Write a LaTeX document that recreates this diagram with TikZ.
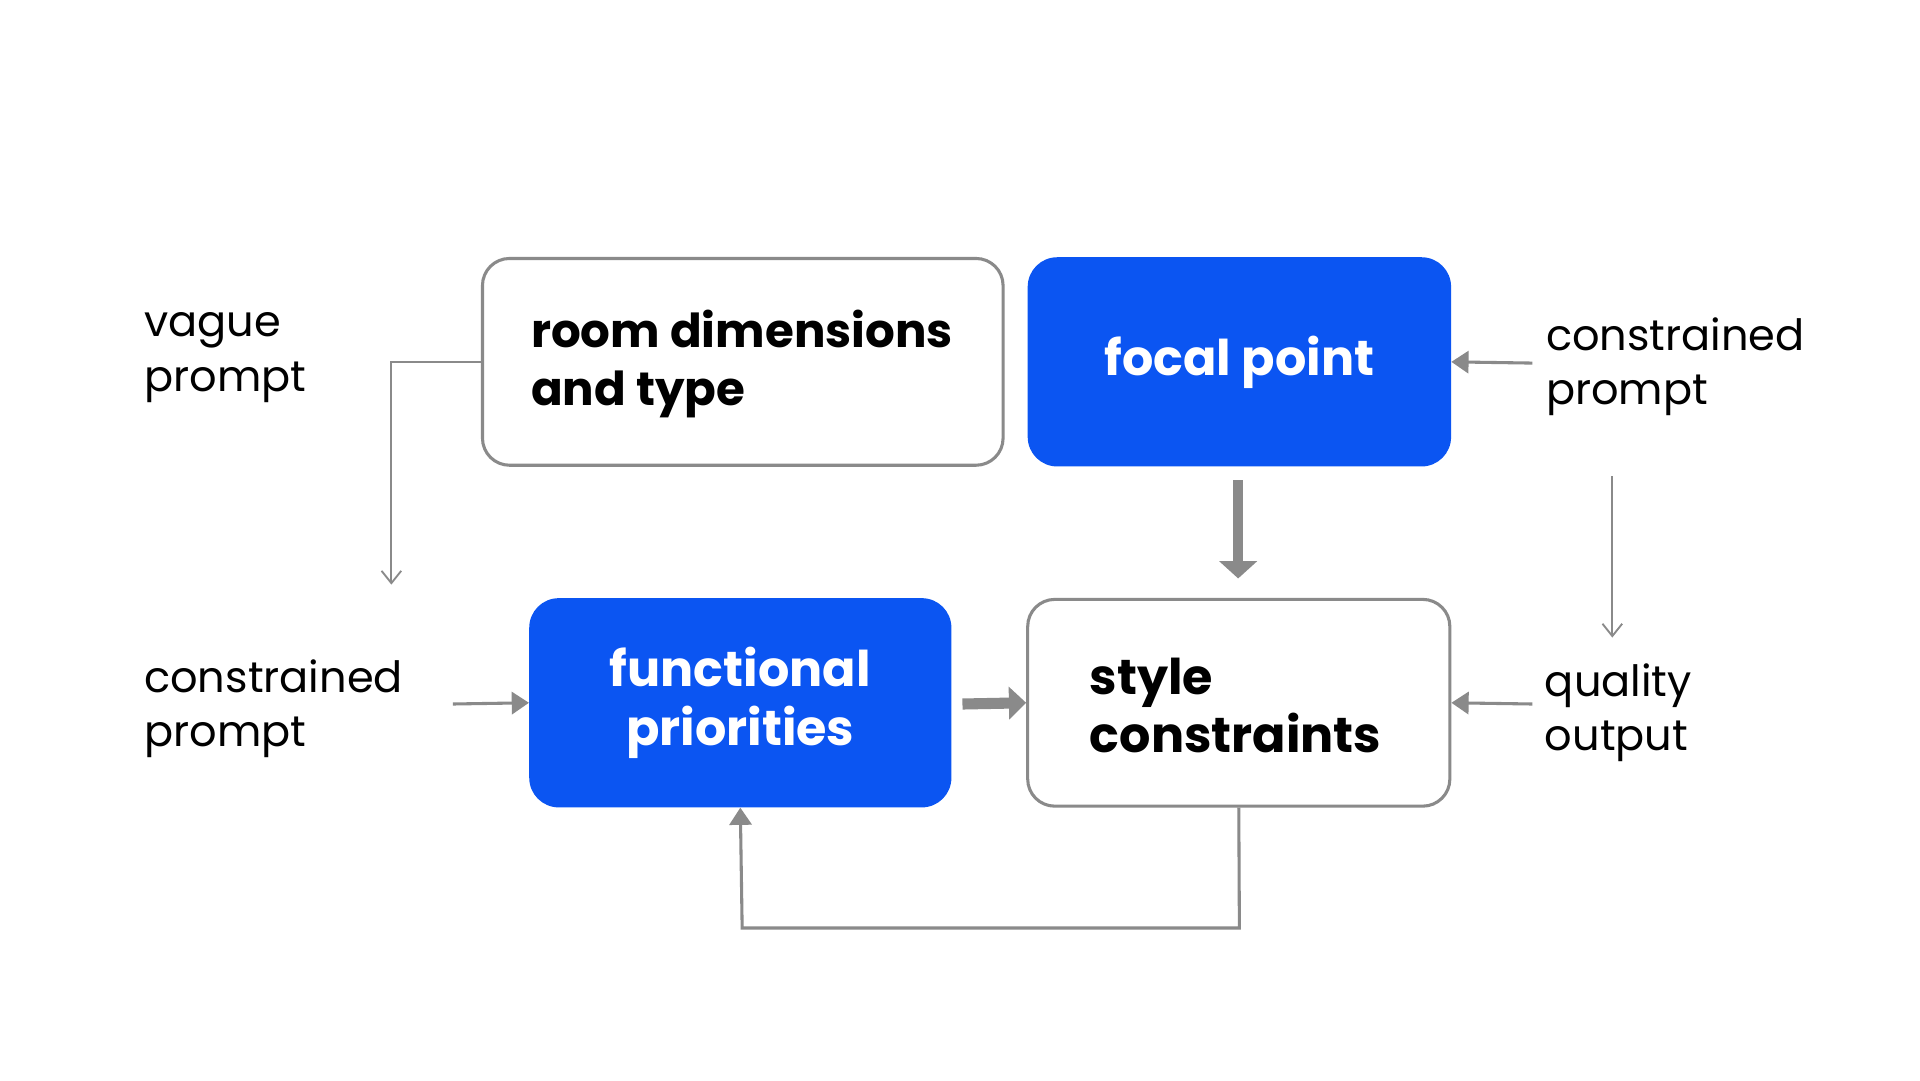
\documentclass[tikz,border=0pt]{standalone}
\usepackage{fontspec}
\setmainfont{Poppins}
\usetikzlibrary{arrows.meta}
\definecolor{bblue}{HTML}{0B55F2}
\definecolor{lgray}{HTML}{8A8A8A}
\begin{document}
\begin{tikzpicture}[x=1pt,y=-1pt,
  wbox/.style={draw=lgray,line width=2.5pt,rounded corners=22pt,fill=white,minimum width=#1,minimum height=168pt,inner sep=0pt},
  bbox/.style={fill=bblue,rounded corners=24pt,minimum width=#1,minimum height=170pt,inner sep=0pt},
  lab/.style={align=left,anchor=north west,font=\fontsize{35}{44}\selectfont,inner sep=0pt},
  thin/.style={draw=lgray,line width=1.5pt,-{Straight Barb[length=10pt,width=16pt]}},
  mid/.style={draw=lgray,line width=2.5pt,-{Triangle[length=14pt,width=18pt]}},
  thick/.style={draw=lgray,line width=8pt,-{Triangle[length=14pt,width=30pt]}}]
\fill[white] (0,0) rectangle (1560,878);
\useasboundingbox (0,0) rectangle (1560,878);
\node[wbox=423pt] (room) at (603.5,294) {};
\node[font=\bfseries\fontsize{38}{47}\selectfont,align=left,anchor=west] (roomt) at (428,296) {room dimensions\\and type};
\node[bbox=344pt,text=white,font=\bfseries\fontsize{40}{50}\selectfont] (focal) at (1007,294) {focal point};
\node[bbox=343pt,text=white,font=\bfseries\fontsize{40}{48}\selectfont,align=center] (func) at (601.5,571) {functional\\priorities};
\node[wbox=343pt] (style) at (1006.5,571) {};
\node[font=\bfseries\fontsize{40}{47}\selectfont,align=left,anchor=west] (stylet) at (882,573) {style\\constraints};
\node[lab] (vague) at (117,254) {vague\\prompt};
\node[lab] (cr) at (1256,258) {constrained\\prompt};
\node[lab] (cl) at (117,536) {constrained\\prompt};
\node[lab] (qo) at (1255,539) {quality\\output};
\coordinate (a1) at (318,475);
\draw[thin] (room.west) -- (318,294) -- (a1);
\draw[mid] (1245,295) -- (focal.east);
\draw[thick] (1006,390) -- (1006,470);
\draw[thin] (1310,387) -- (1310,518);
\draw[mid] (368,572) -- (func.west);
\draw[line width=9pt,draw=lgray,-{Triangle[length=14pt,width=26pt]}] (782,572) -- (style.west);
\draw[mid] (1245,572) -- (style.east);
\draw[mid] (style.south) -- (1007,754) -- (603,754) -- (func.south);
\end{tikzpicture}
\end{document}
